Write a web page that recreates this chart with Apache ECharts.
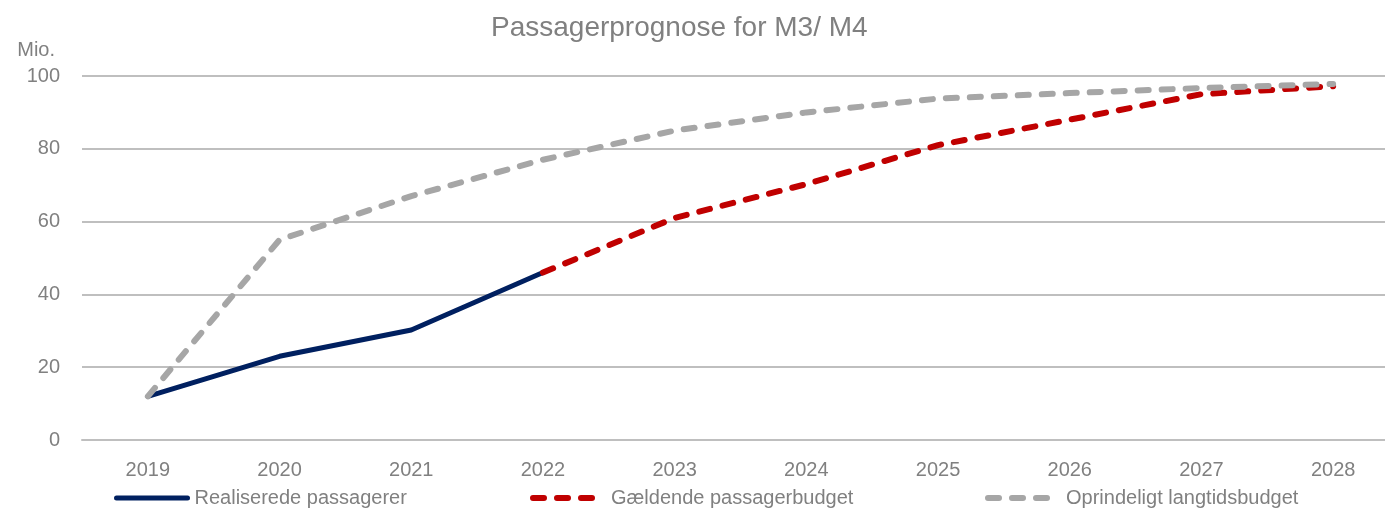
<!DOCTYPE html>
<html>
<head>
<meta charset="utf-8">
<script src="https://cdn.jsdelivr.net/npm/echarts@6/dist/echarts.min.js"></script>
<style>html,body{margin:0;padding:0;background:#fff}#c{width:1385px;height:510px}</style>
</head>
<body>
<div id="c"></div>
<script>
const years = ['2019','2020','2021','2022','2023','2024','2025','2026','2027','2028'];
const realised = [12, 23, 30.2, 46, null, null, null, null, null, null];
const currentBudget = [null, null, null, 46, 61, 70.3, 81, 88, 95, 97.2];
const originalBudget = [12, 55, 67, 77, 85, 90, 93.8, 95.3, 96.7, 97.8];
const yTicks = [0, 20, 40, 60, 80, 100];

const names = ['Realiserede passagerer', 'Gældende passagerbudget', 'Oprindeligt langtidsbudget'];
const txt = '#808080';
const font = 'Liberation Sans, Arial, sans-serif';

const chart = echarts.init(document.getElementById('c'), null, {renderer: 'canvas'});
const solid = (color) => ({color: color, width: 5, cap: 'round', join: 'round'});
const dashed = (color) => ({color: color, width: 6, type: [11, 13], cap: 'round'});
const legendBase = (name, left, ls) => ({
  data: [name], left: left, top: 488, padding: 0, itemWidth: 71, itemHeight: 12, itemGap: 0,
  itemStyle: {opacity: 0}, lineStyle: ls,
  textStyle: {color: txt, fontFamily: font, fontSize: 20, padding: [0, 0, 0, 2]}
});
chart.setOption({
  animation: false,
  title: {
    text: 'Passagerprognose for M3/ M4', left: 486, top: 9,
    textStyle: {color: txt, fontFamily: font, fontSize: 28, fontWeight: 'normal'}
  },
  legend: [
    legendBase(names[0], 114, solid('#002060')),
    legendBase(names[1], 530, dashed('#C00000')),
    legendBase(names[2], 985, dashed('#A6A6A6'))
  ],
  grid: {left: 82, right: -14, top: 76, bottom: 70, containLabel: false, outerBoundsMode: 'none'},
  xAxis: {
    type: 'category', data: years, boundaryGap: true,
    axisLine: {lineStyle: {color: '#BFBFBF', width: 2}},
    axisTick: {show: false},
    axisLabel: {color: txt, fontFamily: font, fontSize: 20, margin: 20}
  },
  yAxis: {
    type: 'value', min: 0, max: 100, interval: 20,
    name: 'Mio.', nameLocation: 'end', nameGap: 16,
    nameTextStyle: {color: txt, fontFamily: font, fontSize: 20, align: 'right', padding: [0, 27, 0, 0]},
    axisLine: {show: false}, axisTick: {show: false},
    splitLine: {lineStyle: {color: '#BFBFBF', width: 2}},
    axisLabel: {color: txt, fontFamily: font, fontSize: 20, margin: 22,
      formatter: v => yTicks.includes(v) ? String(v) : ''}
  },
  series: [
    {name: names[0], type: 'line', data: realised, showSymbol: false, symbol: 'none',
     lineStyle: solid('#002060'), itemStyle: {color: '#002060'}},
    {name: names[1], type: 'line', data: currentBudget, showSymbol: false, symbol: 'none',
     lineStyle: dashed('#C00000'), itemStyle: {color: '#C00000'}},
    {name: names[2], type: 'line', data: originalBudget, showSymbol: false, symbol: 'none',
     lineStyle: dashed('#A6A6A6'), itemStyle: {color: '#A6A6A6'}}
  ]
});
</script>
</body>
</html>
